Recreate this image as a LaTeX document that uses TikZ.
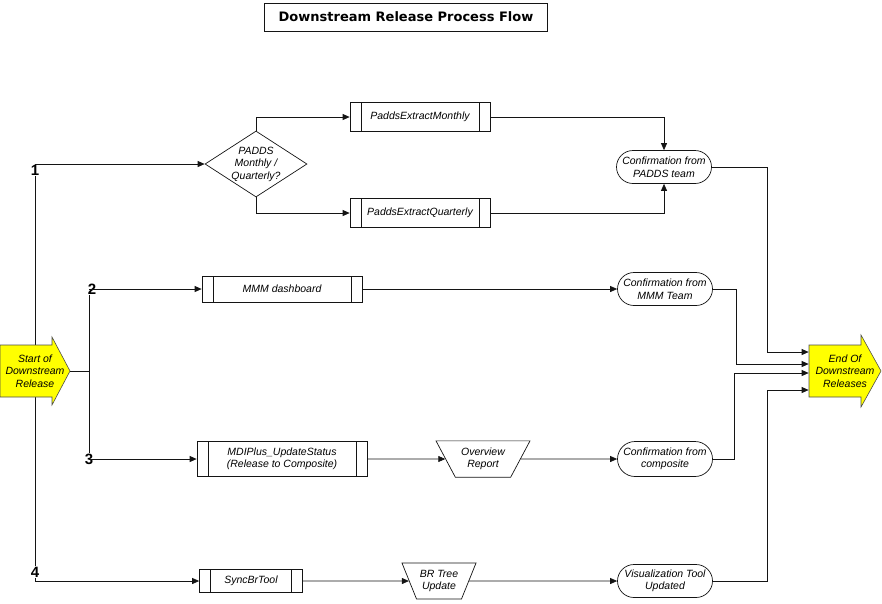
\documentclass[tikz,border=0pt]{standalone}
\usepackage{fontspec}
\setmainfont{Liberation Sans}
\newfontfamily\titlefont{DejaVu Sans}
\usetikzlibrary{arrows.meta,calc,positioning,shapes.geometric,shapes.misc}
\definecolor{flowyellow}{RGB}{255,255,0}
\definecolor{flowline}{RGB}{20,20,20}

\tikzset{
 flowtext/.style={font=\fontsize{10.5}{12.5}\selectfont\itshape,align=center,inner sep=0pt},
 procbox/.style={flowtext,draw,rectangle,
  path picture={\draw ([xshift=11pt]path picture bounding box.north west)
   --([xshift=11pt]path picture bounding box.south west)
   ([xshift=-11pt]path picture bounding box.north east)
   --([xshift=-11pt]path picture bounding box.south east);}},
 decision/.style={flowtext,draw,diamond,minimum width=102pt,minimum height=66pt,inner sep=-9pt},
 confirm/.style={flowtext,draw,rounded rectangle,minimum width=95pt,minimum height=33pt},
 report/.style={flowtext,draw,trapezium,shape border rotate=180,trapezium stretches body,
  inner xsep=0pt,inner ysep=7pt},
 bigarrow/.style={fill=flowyellow,draw=black!70,line width=.6pt},
 number/.style={font=\fontsize{15}{15}\selectfont\bfseries,fill=white,inner sep=1pt},
}

\begin{document}
\begin{tikzpicture}[x=1pt,y=-1pt,>={Triangle[length=7pt,width=6pt]},line width=.7pt,draw=flowline]
\useasboundingbox (0,0) rectangle (882,603);
% title
\node[draw,minimum width=283pt,minimum height=28pt,font=\titlefont\fontsize{13}{15}\selectfont\bfseries]
 (title) at (406,17) {Downstream Release Process Flow};
% trunks
\coordinate (t1) at (35,164);
\coordinate (t4) at (35,581);
\coordinate (t2) at (89,289);
\coordinate (t3) at (89,459);
\draw (t1)--(t4);
\draw (t2)--(t3);
% start and end arrows
\filldraw[bigarrow] (0,345)--(52,345)--(52,337)--(70,371)--(52,405)--(52,397)--(0,397)--cycle;
\node[flowtext,minimum width=70pt,minimum height=52pt] (start) at (35,371)
 {Start of\\Downstream\\Release};
\filldraw[bigarrow] (809,345)--(861,345)--(861,335)--(881,371)--(861,407)--(861,397)--(809,397)--cycle;
\node[flowtext,minimum width=72pt,minimum height=52pt] (endar) at (845,371)
 {End Of\\Downstream\\Releases};
% PADDS branch
\node[decision] (padds) at (256,164) {PADDS\\Monthly /\\Quarterly?};
\node[procbox,minimum width=140pt,minimum height=29pt] (monthly) at (420,117) {PaddsExtractMonthly};
\node[procbox,minimum width=140pt,minimum height=29pt] (quarterly) at (420,213) {PaddsExtractQuarterly};
\node[confirm] (confpadds) at (664,167) {Confirmation from\\PADDS team};
% MMM branch
\node[procbox,minimum width=160pt,minimum height=26pt] (mmm) at (282,289) {MMM dashboard};
\node[confirm] (confmmm) at (665,289) {Confirmation from\\MMM Team};
% composite branch
\node[procbox,minimum width=170pt,minimum height=35pt] (mdi) at (282,459)
 {MDIPlus\_UpdateStatus\\(Release to Composite)};
\node[report,trapezium angle=62,minimum width=94pt] (overview) at (483,459) {Overview\\Report};
\node[confirm,minimum height=35pt] (confcomp) at (665,459) {Confirmation from\\composite};
% visualization branch
\node[procbox,minimum width=103pt,minimum height=23pt] (sync) at (251,581) {SyncBrTool};
\node[report,trapezium angle=68,minimum width=74pt] (brtree) at (439,581) {BR Tree\\Update};
\node[confirm] (confvis) at (665,581) {Visualization Tool\\Updated};
% numbers
\node[number] at (35,170) {1};
\node[number] at (92,289) {2};
\node[number] at (89,459) {3};
\node[number] at (35,572) {4};
% connectors
\draw[->] (t1)--(padds.west);
\draw (start.east)--(start.east-|t2);
\draw[->] (t2)--(mmm.west);
\draw[->] (t3)--(mdi.west);
\draw[->] (t4)--(sync.west);
\draw[->] (padds.north)|-(monthly.west);
\draw[->] (padds.south)|-(quarterly.west);
\draw[->] (monthly.east)-|(confpadds.north);
\draw[->] (quarterly.east)-|(confpadds.south);
\draw[->] (mmm.east)--(confmmm.west);
\draw[->] (mdi.east)--(overview.west);
\draw[->] (overview.east)--(confcomp.west);
\draw[->] (sync.east)--(brtree.west);
\draw[->] (brtree.east)--(confvis.west);
\draw[->] (confpadds.east)-|($(endar.west)+(-41,-19)$)--([yshift=19pt]endar.west);
\draw[->] (confmmm.east)-|($(endar.west)+(-72,-7)$)--([yshift=7pt]endar.west);
\draw[->] (confcomp.east)-|($(endar.west)+(-74,2)$)--([yshift=-2pt]endar.west);
\draw[->] (confvis.east)-|($(endar.west)+(-41,19)$)--([yshift=-19pt]endar.west);
\end{tikzpicture}
\end{document}
